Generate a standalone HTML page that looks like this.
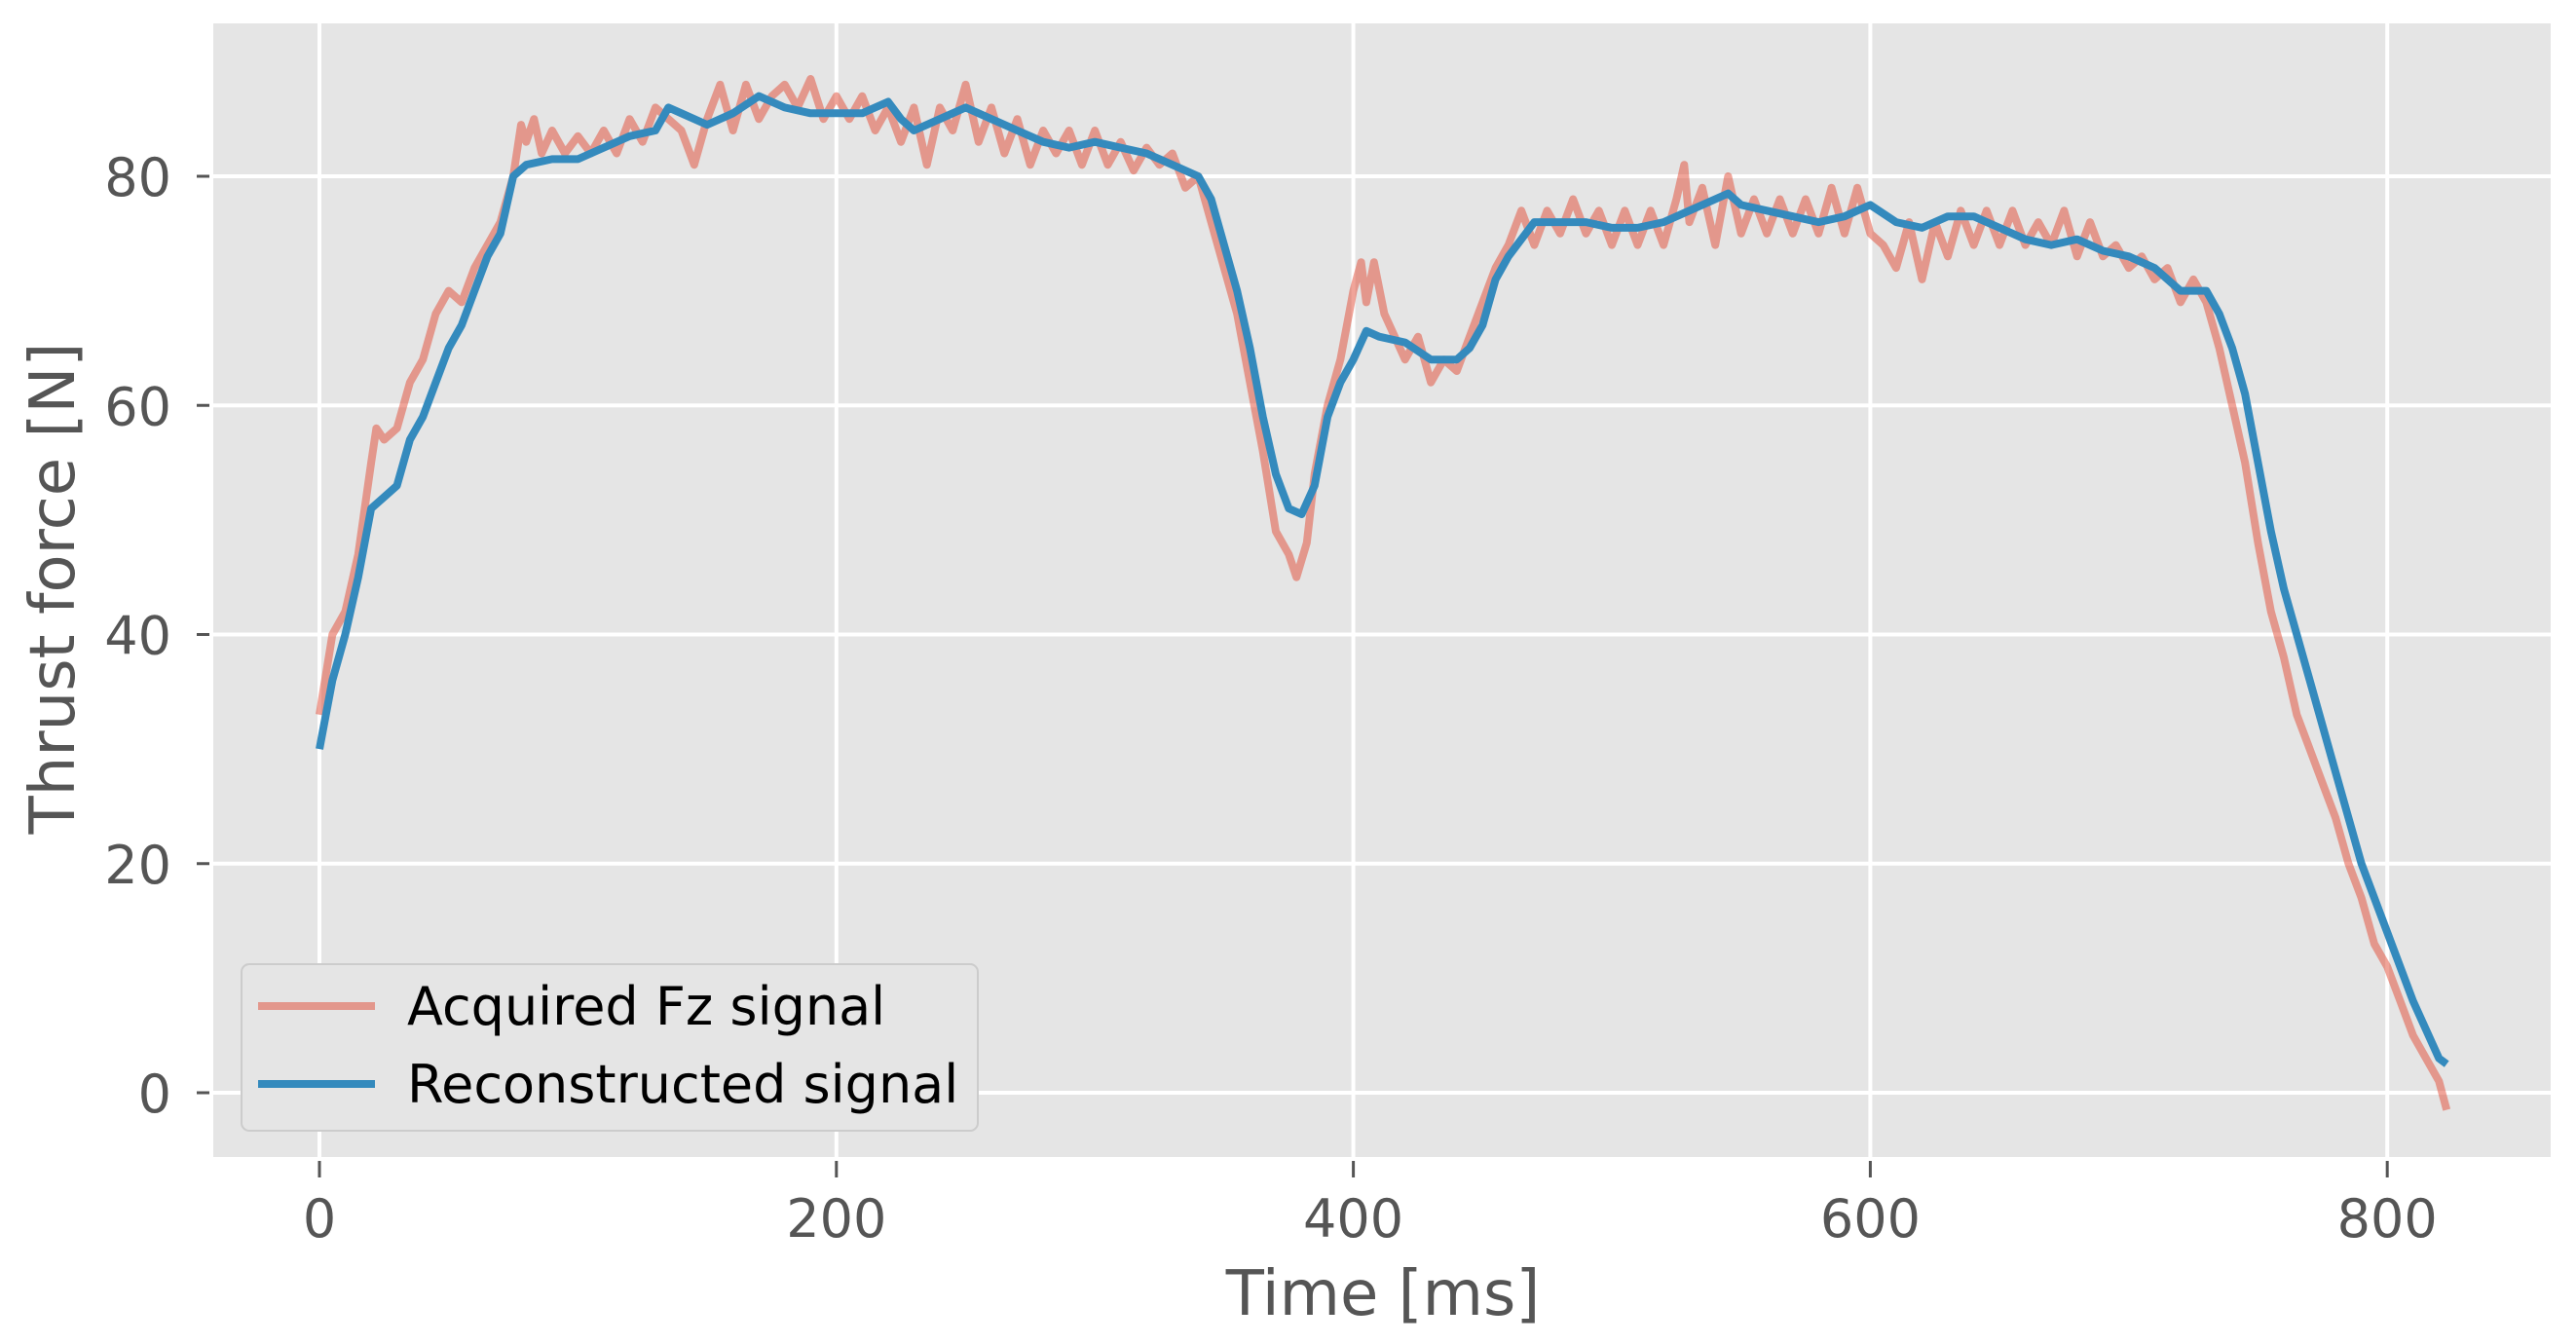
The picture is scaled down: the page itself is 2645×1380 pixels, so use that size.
<!DOCTYPE html>
<html><head><meta charset="utf-8"><style>body{margin:0;background:#fff}svg{display:block}text{font-family:"DejaVu Sans","Liberation Sans",sans-serif}</style></head>
<body>
<svg id="chart" width="2645" height="1380" viewBox="0 0 2645 1380" xmlns="http://www.w3.org/2000/svg">
<rect x="219" y="24" width="2400" height="1164" fill="#E5E5E5"/>
<g id="grid"></g>
<g id="ticks"></g>
<g id="series"></g>
<text x="0" y="0" transform="translate(76,604) rotate(-90)" text-anchor="middle" font-size="64" fill="#555">Thrust force [N]</text>
<text x="1420" y="1350" text-anchor="middle" font-size="64" fill="#555">Time [ms]</text>
<g>
<rect x="248" y="990" width="756" height="171" rx="8" fill="#E5E5E5" stroke="#ccc" stroke-width="2"/>
<line x1="265" y1="1033" x2="385" y2="1033" stroke="#E24A33" stroke-opacity="0.5" stroke-width="8"/>
<text x="418" y="1052" font-size="54" fill="#000">Acquired Fz signal</text>
<line x1="265" y1="1113" x2="385" y2="1113" stroke="#348ABD" stroke-width="8"/>
<text x="418" y="1132" font-size="54" fill="#000">Reconstructed signal</text>
</g>
</svg>
<script>
const xTicks=[0,200,400,600,800];
const yTicks=[0,20,40,60,80];
const recT=[0,5,10,15,20,25,30,35,40,45,50,55,60,65,70,75,80,90,100,110,120,130,135,140,150,160,170,180,190,200,210,220,225,230,240,250,260,270,280,290,300,310,320,330,340,345,350,355,360,365,370,375,380,385,390,395,400,405,410,420,430,440,445,450,455,460,470,480,490,500,510,520,530,540,545,550,560,570,580,590,600,610,620,630,640,650,660,670,680,690,700,710,720,730,735,740,745,750,755,760,770,780,790,800,810,820,823];
const recV=[30,36,40,45,51,52,53,57,59,62,65,67,70,73,75,80,81,81.5,81.5,82.5,83.5,84,86,85.5,84.5,85.5,87,86,85.5,85.5,85.5,86.5,85,84,85,86,85,84,83,82.5,83,82.5,82,81,80,78,74,70,65,59,54,51,50.5,53,59,62,64,66.5,66,65.5,64,64,65,67,71,73,76,76,76,75.5,75.5,76,77,78,78.5,77.5,77,76.5,76,76.5,77.5,76,75.5,76.5,76.5,75.5,74.5,74,74.5,73.5,73,72,70,70,68,65,61,55,49,44,36,28,20,14,8,3,2.5];
const acqT=[0,5,10,15,20,22,25,30,35,40,45,50,55,60,65,70,75,78,80,83,86,90,95,100,105,110,115,120,125,130,135,140,145,150,155,160,165,170,175,180,185,190,195,200,205,210,215,220,225,230,235,240,245,250,255,260,265,270,275,280,285,290,295,300,305,310,315,320,325,330,335,340,345,350,355,360,365,370,375,378,382,385,390,395,400,403,405,408,412,416,420,425,430,435,440,445,450,455,460,465,470,475,480,485,490,495,500,505,510,515,520,525,528,530,535,540,545,550,555,560,565,570,575,580,585,590,595,600,605,610,615,620,625,630,635,640,645,650,655,660,665,670,675,680,685,690,695,700,705,710,715,720,725,730,735,740,745,750,755,760,765,770,775,780,785,790,795,800,805,810,815,820,823];
const acqV=[33,40,42,47,55,58,57,58,62,64,68,70,69,72,74,76,80,84.5,83,85,82,84,82,83.5,82,84,82,85,83,86,85,84,81,85,88,84,88,85,87,88,86,88.5,85,87,85,87,84,86,83,86,81,86,84,88,83,86,82,85,81,84,82,84,81,84,81,83,80.5,82.5,81,82,79,80,76,72,68,62,56,49,47,45,48,54,60,64,70,72.5,69,72.5,68,66,64,66,62,64,63,66,69,72,74,77,74,77,75,78,75,77,74,77,74,77,74,78,81,76,79,74,80,75,78,75,78,75,78,75,79,75,79,75,74,72,76,71,76,73,77,74,77,74,77,74,76,74,77,73,76,73,74,72,73,71,72,69,71,69,65,60,55,48,42,38,33,30,27,24,20,17,13,11,8,5,3,1,-1.5];
const X=v=>328+v*2.654, Y=v=>1122-v*11.7625;
const NS='http://www.w3.org/2000/svg';
function mk(tag,attrs,parent){const e=document.createElementNS(NS,tag);for(const k in attrs)e.setAttribute(k,attrs[k]);parent.appendChild(e);return e;}
const grid=document.getElementById('grid'),ticks=document.getElementById('ticks'),series=document.getElementById('series');
xTicks.forEach(t=>{
 const g=mk('line',{x1:X(t),x2:X(t),y1:24,y2:1188,stroke:'#fff','stroke-width':4},grid);
 
 
 const tk=mk('line',{x1:X(t),x2:X(t),y1:1192,y2:1209,stroke:'#555','stroke-width':3},ticks);
 
 
 const tl=mk('text',{x:X(t),y:1270,'text-anchor':'middle','font-size':54,fill:'#555'},ticks);
 tl.textContent=t;
 
 
});
yTicks.forEach(t=>{
 const g=mk('line',{x1:219,x2:2619,y1:Y(t),y2:Y(t),stroke:'#fff','stroke-width':4},grid);
 
 
 const tk=mk('line',{x1:202,x2:215,y1:Y(t),y2:Y(t),stroke:'#555','stroke-width':3},ticks);
 
 
 const tl=mk('text',{x:176,y:Y(t)+20,'text-anchor':'end','font-size':54,fill:'#555'},ticks);
 tl.textContent=t;
 
 
});
function path(T,V){return T.map((t,i)=>(i?'L':'M')+X(t).toFixed(1)+','+Y(V[i]).toFixed(1)).join('');}
const a=mk('path',{d:path(acqT,acqV),fill:'none',stroke:'#E24A33','stroke-opacity':0.5,'stroke-width':8,'stroke-linejoin':'round'},series);


const r=mk('path',{d:path(recT,recV),fill:'none',stroke:'#348ABD','stroke-width':8,'stroke-linejoin':'round'},series);


</script>
</body></html>
